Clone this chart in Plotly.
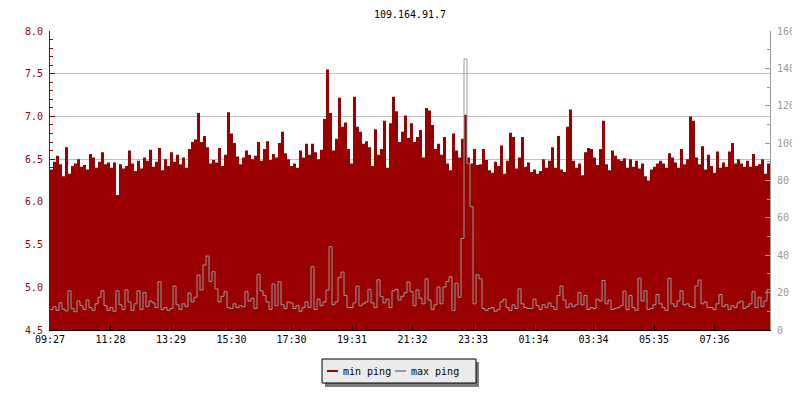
import plotly.graph_objects as go

TITLE = "109.164.91.7"
SERIES_NAMES = ["min ping", "max ping"]
STEP_MIN = 6  # minutes per sample
TICK_LABELS = ["09:27", "11:28", "13:29", "15:30", "17:30", "19:31",
               "21:32", "23:33", "01:34", "03:34", "05:35", "07:36"]

min_ping = [
    6.38, 6.47, 6.54, 6.44, 6.30, 6.64, 6.33, 6.42, 6.45, 6.50,
    6.41, 6.43, 6.38, 6.56, 6.52, 6.40, 6.47, 6.58, 6.44, 6.46,
    6.40, 6.46, 6.08, 6.44, 6.39, 6.42, 6.60, 6.45, 6.36, 6.48,
    6.39, 6.52, 6.48, 6.61, 6.41, 6.47, 6.63, 6.37, 6.50, 6.42,
    6.58, 6.47, 6.55, 6.44, 6.52, 6.40, 6.62, 6.70, 6.73, 7.04,
    6.70, 6.77, 6.64, 6.45, 6.49, 6.46, 6.63, 6.42, 6.55, 7.05,
    6.80, 6.69, 6.53, 6.44, 6.52, 6.60, 6.55, 6.50, 6.54, 6.70,
    6.48, 6.62, 6.71, 6.49, 6.56, 6.52, 6.69, 6.82, 6.57, 6.50,
    6.42, 6.45, 6.40, 6.60, 6.52, 6.68, 6.55, 6.68, 6.58, 6.50,
    6.61, 6.97, 7.55, 7.04, 6.60, 6.74, 7.22, 6.88, 6.93, 6.62,
    6.45, 7.23, 6.88, 6.82, 6.68, 6.71, 6.64, 6.42, 6.85, 6.55,
    6.62, 6.95, 6.40, 6.92, 7.23, 7.06, 6.70, 6.82, 7.01, 6.75,
    6.92, 6.70, 6.76, 6.84, 6.52, 7.10, 7.07, 6.90, 6.62, 6.68,
    6.55, 6.76, 6.45, 6.37, 6.80, 6.60, 6.52, 6.74, 7.02, 6.52,
    6.45, 6.62, 6.43, 6.44, 6.62, 6.49, 6.37, 6.34, 6.47, 6.42,
    6.66, 6.33, 6.48, 6.81, 6.76, 6.39, 6.52, 6.76, 6.41, 6.46,
    6.35, 6.38, 6.33, 6.36, 6.50, 6.40, 6.48, 6.64, 6.40, 6.77,
    6.38, 6.35, 6.88, 7.08, 6.48, 6.40, 6.45, 6.31, 6.58, 6.63,
    6.62, 6.52, 6.43, 6.62, 6.95, 6.44, 6.37, 6.60, 6.54, 6.50,
    6.48, 6.51, 6.40, 6.50, 6.41, 6.48, 6.39, 6.45, 6.30, 6.25,
    6.38, 6.41, 6.45, 6.48, 6.45, 6.40, 6.57, 6.52, 6.46, 6.40,
    6.62, 6.44, 6.50, 7.00, 6.95, 6.52, 6.44, 6.65, 6.38, 6.55,
    6.42, 6.34, 6.59, 6.40, 6.46, 6.41, 6.59, 6.69, 6.45, 6.50,
    6.45, 6.41, 6.48, 6.41, 6.56, 6.42, 6.44, 6.50, 6.33, 6.45,
]

max_ping = [
    11.0, 12.5, 10.5, 14.6, 11.2, 10.2, 21.0, 11.5, 9.8, 15.5,
    13.0, 11.0, 16.0, 12.0, 10.5, 14.0, 17.5, 21.0, 13.0, 10.5,
    12.0, 10.0, 21.0, 13.5, 11.0, 21.5, 15.0, 10.5, 14.0, 21.0,
    11.0, 20.0, 12.5, 15.5, 14.5, 12.0, 25.9, 11.0, 12.0, 10.5,
    11.5, 23.5, 13.5, 11.0, 14.0, 12.5, 19.8, 15.0, 17.5, 29.4,
    21.4, 34.7, 39.6, 26.0, 31.2, 22.0, 15.0, 18.0, 20.5, 12.0,
    11.5, 14.0, 12.0, 13.0, 12.5, 20.5, 15.5, 17.0, 11.5, 29.8,
    21.0, 18.5, 15.0, 11.0, 24.6, 13.0, 25.9, 13.5, 11.5, 15.0,
    14.5, 11.5, 13.0, 10.0, 12.0, 15.0, 12.0, 33.9, 11.0, 16.5,
    13.0, 15.0, 21.4, 44.6, 13.5, 15.0, 28.0, 31.0, 18.5, 12.0,
    12.0, 14.5, 23.5, 13.0, 14.0, 15.0, 21.8, 14.5, 12.0, 26.9,
    18.0, 14.5, 16.5, 12.0, 21.0, 21.8, 16.0, 18.0, 20.0, 25.7,
    20.5, 13.0, 21.4, 17.0, 14.0, 27.4, 16.0, 11.0, 13.5, 23.0,
    14.0, 23.0, 25.9, 28.5, 10.5, 25.0, 17.5, 49.0, 145.0, 89.0,
    66.0, 14.0, 29.6, 27.4, 11.5, 10.5, 11.5, 12.0, 10.0, 11.0,
    15.0, 16.5, 12.0, 10.5, 13.5, 11.5, 22.0, 14.0, 12.0, 11.5,
    11.5, 16.5, 13.0, 11.0, 13.5, 12.0, 14.5, 12.5, 11.0, 18.5,
    23.5, 16.0, 12.0, 14.0, 12.5, 13.5, 20.0, 13.5, 18.5, 11.0,
    12.0, 11.5, 16.5, 15.5, 26.5, 14.0, 16.0, 11.0, 11.5, 12.0,
    13.0, 20.8, 11.0, 18.5, 12.0, 10.5, 27.7, 15.5, 21.0, 11.0,
    11.5, 13.5, 19.0, 14.0, 12.0, 10.5, 27.7, 14.0, 12.5, 15.5,
    21.0, 13.5, 14.0, 12.5, 12.0, 23.5, 26.7, 14.0, 15.0, 12.0,
    12.0, 11.0, 14.0, 19.0, 12.5, 13.5, 11.0, 13.0, 12.0, 14.5,
    15.5, 11.5, 12.5, 14.0, 20.5, 12.0, 17.5, 12.5, 15.5, 21.6,
]

RED = "#990000"
GRAY = "#999999"
FONT = "DejaVu Sans Mono"

n = len(min_ping)
xs = [i * STEP_MIN for i in range(n)] + [n * STEP_MIN]
min_ext = min_ping + [min_ping[-1]]
max_ext = max_ping + [max_ping[-1]]


def label_minutes(lbl, start=TICK_LABELS[0]):
    h, m = map(int, lbl.split(":"))
    h0, m0 = map(int, start.split(":"))
    return ((h * 60 + m) - (h0 * 60 + m0)) % 1440


tickvals = [label_minutes(t) for t in TICK_LABELS]

fig = go.Figure()
fig.add_trace(go.Scatter(
    x=xs, y=min_ext, name=SERIES_NAMES[0], mode="lines",
    line=dict(width=0, shape="hv", color=RED),
    fill="tozeroy", fillcolor=RED, showlegend=False, hoverinfo="skip"))
fig.add_trace(go.Scatter(
    x=xs, y=max_ext, name=SERIES_NAMES[1], mode="lines", yaxis="y2",
    line=dict(width=1, shape="hv", color=GRAY),
    showlegend=False, hoverinfo="skip"))

# page offset caused by the default body margin of the html page
OFF = 8
FW, FH = 800 - OFF, 400 - OFF
# plot-area pixel geometry (page coordinates)
L, R, T, B = 50, 770, 31, 330


def px(xp):
    return (xp - L) / (R - L)


def py(yp):
    return (B - yp) / (B - T)


shapes = [
    dict(type="rect", xref="paper", yref="paper", x0=px(325), x1=px(479),
         y0=py(362), y1=py(387), fillcolor="#7a7a7a", line=dict(width=0)),
    dict(type="rect", xref="paper", yref="paper", x0=px(322), x1=px(476),
         y0=py(359), y1=py(383), fillcolor="#ebebeb",
         line=dict(width=1, color="black")),
    dict(type="line", xref="paper", yref="paper", x0=px(327), x1=px(338),
         y0=py(371), y1=py(371), line=dict(width=2, color=RED)),
    dict(type="line", xref="paper", yref="paper", x0=px(395), x1=px(406),
         y0=py(371), y1=py(371), line=dict(width=2, color=GRAY)),
]
annotations = [
    dict(xref="paper", yref="paper", x=px(341), y=py(371), text=SERIES_NAMES[0],
         showarrow=False, xanchor="left", yanchor="middle",
         font=dict(family=FONT, size=10, color="black")),
    dict(xref="paper", yref="paper", x=px(409), y=py(371), text=SERIES_NAMES[1],
         showarrow=False, xanchor="left", yanchor="middle",
         font=dict(family=FONT, size=10, color="black")),
]

fig.update_layout(
    width=FW, height=FH,
    margin=dict(l=L - OFF, r=800 - R, t=T - OFF, b=400 - B, autoexpand=False),
    plot_bgcolor="white", paper_bgcolor="white",
    font=dict(family=FONT, size=10, color="black"),
    title=dict(text=TITLE, x=0.5, xref="paper", xanchor="center",
               y=1 - (14 - OFF) / FH, yref="container", yanchor="middle",
               font=dict(family=FONT, size=10, color="black")),
    showlegend=False,
    shapes=shapes, annotations=annotations,
    xaxis=dict(range=[0, n * STEP_MIN], tickmode="array", tickvals=tickvals,
               ticktext=TICK_LABELS, showline=True, linecolor="black",
               linewidth=1, ticks="inside", ticklen=5, tickcolor="black",
               showgrid=False, zeroline=False,
               tickfont=dict(family=FONT, size=10, color="black")),
    yaxis=dict(range=[4.5, 8.0], tick0=4.5, dtick=0.5, tickformat=".1f",
               showline=True, linecolor=RED, linewidth=1,
               ticks="inside", ticklen=5, tickcolor=RED,
               minor=dict(dtick=0.1, ticks="inside", ticklen=3,
                          tickcolor=RED, showgrid=False),
               showgrid=True, gridcolor="#c0c0c0", gridwidth=1,
               zeroline=False, ticklabelstandoff=4,
               tickfont=dict(family=FONT, size=10, color=RED)),
    yaxis2=dict(range=[0, 160], tick0=0, dtick=20, overlaying="y",
                side="right", showline=True, linecolor=GRAY, linewidth=1,
                ticks="inside", ticklen=5, tickcolor=GRAY,
                minor=dict(dtick=10, ticks="inside", ticklen=3,
                           tickcolor=GRAY, showgrid=False),
                showgrid=False, zeroline=False, ticklabelstandoff=4,
                tickfont=dict(family=FONT, size=10, color=GRAY)),
)

fig.write_html("out.html")
